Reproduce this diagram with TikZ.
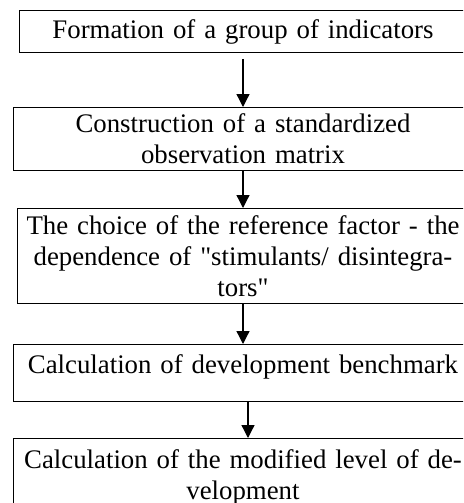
\documentclass[tikz,border=0pt]{standalone}
\usepackage{fontspec}
\setmainfont{Liberation Serif}
\usetikzlibrary{arrows.meta}
\tikzset{
  blockbox/.style={draw, line width=1pt, text width=440pt, align=center, inner xsep=4pt, inner ysep=0pt, font=\fontsize{26.8}{31}\selectfont},
}
\begin{document}
\begin{tikzpicture}[x=1pt, y=-1pt, >={Triangle[width=13pt,length=13pt]}]
\useasboundingbox (0,0) rectangle (463,503);
\clip (0,0) rectangle (463,503);
\node[blockbox, anchor=north, minimum width=448pt, minimum height=42pt] (a) at (243,10) {Formation of a group of indicators};
\node[blockbox, anchor=north, minimum width=460pt, minimum height=63pt] (b) at (243,107) {Construction of a standardized\\observation matrix};
\node[blockbox, anchor=north, minimum width=452pt, minimum height=95pt] (c) at (243,208) {The choice of the reference factor - the\\dependence of \textquotedbl stimulants/ disintegra-\\tors\textquotedbl};
\node[blockbox, anchor=north, minimum width=460pt, text depth=17pt, inner ysep=10.5pt] (d) at (243,344) {Calculation of development benchmark};
\node[blockbox, anchor=north, minimum width=460pt, minimum height=78pt] (e) at (243,438) {Calculation of the modified level of de-\\velopment};
\draw[->, line width=1.3pt] ([yshift=-6pt]a.south) -- (b.north);
\draw[->, line width=1.3pt] (b) -- (c);
\draw[->, line width=1.3pt] (c) -- (d);
\draw[->, line width=1.3pt] ([xshift=5pt]d.south) -- ([xshift=5pt]e.north);
\end{tikzpicture}
\end{document}
